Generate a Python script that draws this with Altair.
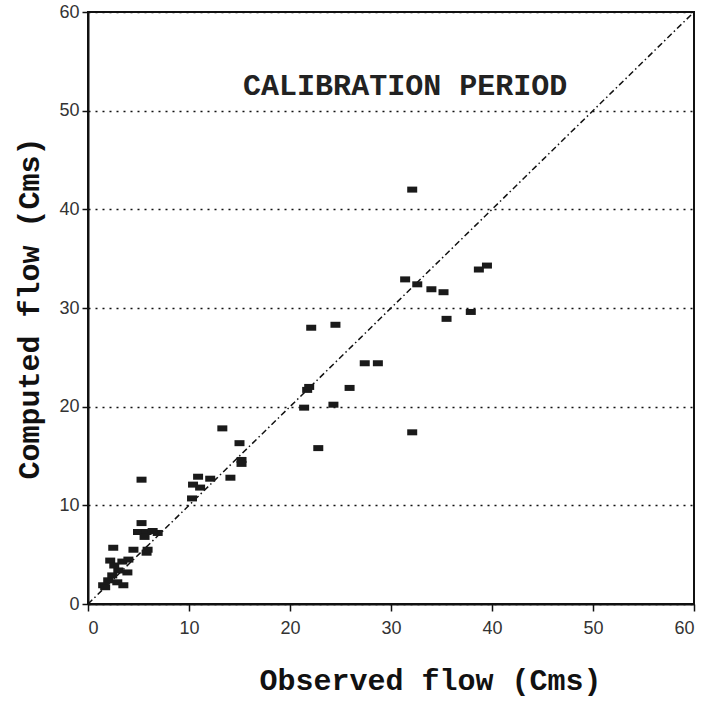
import altair as alt
import pandas as pd

observed = [32.1, 38.7, 39.5, 31.4, 32.6, 34.0, 35.2, 37.9, 35.5, 22.1, 24.5, 27.4, 28.7,
            25.9, 21.7, 21.9, 21.4, 24.3, 22.8, 32.1, 13.3, 15.0, 15.2, 15.2, 14.1, 10.9,
            12.1, 10.4, 11.1, 10.3, 5.3, 5.3, 4.95, 5.8, 6.9, 5.6, 2.5, 4.5, 5.9, 5.8,
            3.4, 4.0, 3.0, 3.9, 2.4, 2.0, 2.9, 1.5, 3.5, 1.7, 6.4, 2.2, 2.6]
computed = [42.0, 33.9, 34.3, 32.9, 32.4, 31.9, 31.6, 29.6, 28.9, 28.0, 28.3, 24.4, 24.4,
            21.9, 21.7, 22.0, 19.9, 20.2, 15.8, 17.4, 17.8, 16.3, 14.6, 14.2, 12.8, 12.9,
            12.7, 12.1, 11.8, 10.7, 12.6, 8.2, 7.3, 7.3, 7.2, 6.8, 5.7, 5.5, 5.5, 5.2,
            4.3, 4.5, 3.4, 3.2, 2.9, 2.4, 2.2, 1.9, 1.9, 1.7, 7.4, 4.4, 3.9]

line_x = [0, 60]
line_y = [0, 60]

ticks = [0, 10, 20, 30, 40, 50, 60]
title_text = ["CALIBRATION PERIOD"]
title_x = [31.4]
title_y = [52.5]

pts = pd.DataFrame({"obs": observed, "comp": computed})
diag = pd.DataFrame({"obs": line_x, "comp": line_y})
lab = pd.DataFrame({"t": title_text, "x": title_x, "y": title_y})

xscale = alt.Scale(domain=[0, 60], nice=False)
yscale = alt.Scale(domain=[0, 60], nice=False)

xaxis = alt.Axis(values=ticks, title="Observed flow (Cms)", grid=False,
                 tickSize=7, labelPadding=8, titlePadding=28, titleX=342)
yaxis = alt.Axis(values=ticks, title="Computed flow (Cms)", grid=True,
                 gridDash=[2, 5], gridColor="#111", gridWidth=1.6, gridOpacity=1,
                 tickSize=6, labelPadding=3, titlePadding=14)

points = alt.Chart(pts).mark_point(
    shape="M-1,-0.6H1V0.6H-1Z", filled=True, color="#1a1a1a", size=100, opacity=1
).encode(
    x=alt.X("obs:Q", scale=xscale, axis=xaxis),
    y=alt.Y("comp:Q", scale=yscale, axis=yaxis),
)

line = alt.Chart(diag).mark_line(
    color="#111", strokeWidth=1.5, strokeDash=[6, 3, 1.5, 3]
).encode(
    x=alt.X("obs:Q", scale=xscale),
    y=alt.Y("comp:Q", scale=yscale),
)

text = alt.Chart(lab).mark_text(
    font="Liberation Mono", fontSize=30, fontWeight="bold", color="#222",
    align="center", baseline="middle"
).encode(
    x=alt.X("x:Q", scale=xscale),
    y=alt.Y("y:Q", scale=yscale),
    text="t:N",
)

chart = alt.layer(line, points, text).properties(
    width=606, height=592,
    autosize=alt.AutoSizeParams(type="none"),
    padding={"left": 88, "top": 12, "right": 20, "bottom": 97},
    background="white",
).configure_view(
    stroke="#111", strokeWidth=2
).configure_axis(
    domainColor="#111", domainWidth=2, tickColor="#111", tickWidth=1.5,
    labelFont="Liberation Sans", labelFontSize=18, labelColor="#333",
    titleFont="Liberation Mono", titleFontSize=30, titleFontWeight="bold", titleColor="#111",
)

chart.save("out.html", embed_options={"renderer": "svg", "actions": False})
